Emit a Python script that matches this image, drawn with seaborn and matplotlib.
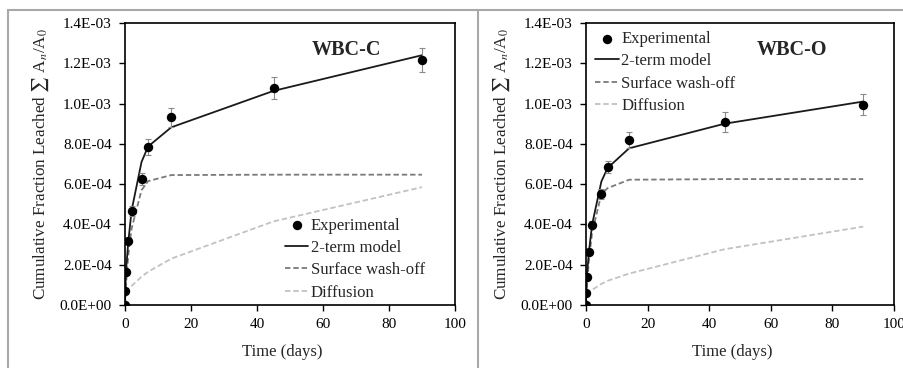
import numpy as np
import pandas as pd
import matplotlib
matplotlib.use('Agg')
import matplotlib.pyplot as plt
import seaborn as sns
from matplotlib.lines import Line2D
from matplotlib.ticker import FuncFormatter, MultipleLocator

sns.set_theme(style='ticks')
plt.rcParams['font.family'] = ['Liberation Serif', 'DejaVu Serif']
plt.rcParams['mathtext.fontset'] = 'stix'

# leaching times (days)
t = [0, 0.08, 0.29, 1, 2, 5, 7, 14, 45, 90]

# WBC-C
exp_C = [0, 6.8e-5, 1.66e-4, 3.18e-4, 4.68e-4, 6.27e-4, 7.84e-4, 9.32e-4, 1.076e-3, 1.218e-3]
err_C = [0, 5e-6, 1e-5, 1.5e-5, 2.5e-5, 3e-5, 4e-5, 4.8e-5, 5.5e-5, 6e-5]
model_C = [0, 7e-5, 1.7e-4, 3.15e-4, 4.7e-4, 7.1e-4, 7.87e-4, 8.82e-4, 1.063e-3, 1.24e-3]
wash_C = [0, 1e-5, 1e-4, 2.5e-4, 3.8e-4, 5.7e-4, 6.15e-4, 6.45e-4, 6.47e-4, 6.47e-4]
diff_C = [6.5e-5, 7e-5, 8e-5, 9.5e-5, 1.4e-4, 1.65e-4, 2.3e-4, 4.15e-4, 5.85e-4]

# WBC-O
exp_O = [0, 5.8e-5, 1.41e-4, 2.63e-4, 3.98e-4, 5.52e-4, 6.84e-4, 8.17e-4, 9.08e-4, 9.94e-4]
err_O = [0, 5e-6, 8e-6, 1.2e-5, 1.8e-5, 2.5e-5, 3e-5, 4e-5, 4.8e-5, 5.2e-5]
model_O = [0, 6e-5, 1.45e-4, 2.7e-4, 4.0e-4, 6.13e-4, 6.8e-4, 7.78e-4, 9.0e-4, 1.01e-3]
wash_O = [0, 1e-5, 9e-5, 2.3e-4, 3.6e-4, 5.5e-4, 5.8e-4, 6.22e-4, 6.25e-4, 6.25e-4]
diff_O = [5.5e-5, 6e-5, 6.5e-5, 7.5e-5, 1.05e-4, 1.2e-4, 1.56e-4, 2.77e-4, 3.89e-4]

panels = [
    ('WBC-C', exp_C, err_C, model_C, wash_C, diff_C),
    ('WBC-O', exp_O, err_O, model_O, wash_O, diff_O),
]

fig = plt.figure(figsize=(9.04, 3.68), dpi=100)
ax_C = fig.add_axes([0.1383, 0.1712, 0.365, 0.7663])
ax_O = fig.add_axes([0.6482, 0.1712, 0.3407, 0.7663])

sci = FuncFormatter(lambda v, p: f'{v:.1E}')

for ax, (name, exp, err, model, wash, diff) in zip([ax_C, ax_O], panels):
    df = pd.DataFrame({'t': t, 'exp': exp, 'err': err, 'model': model, 'wash': wash})
    dfd = pd.DataFrame({'t': t[1:], 'diff': diff})

    sns.lineplot(data=dfd, x='t', y='diff', ax=ax, color='#c2c2c2', lw=1.3,
                 linestyle=(0, (3, 1.6)), label='Diffusion')
    sns.lineplot(data=df, x='t', y='wash', ax=ax, color='#7a7a7a', lw=1.3,
                 linestyle=(0, (3, 1.6)), label='Surface wash-off')
    sns.lineplot(data=df, x='t', y='model', ax=ax, color='#1a1a1a', lw=1.3,
                 label='2-term model')
    ax.errorbar(df['t'], df['exp'], yerr=df['err'], fmt='none', ecolor='#8a8a8a',
                elinewidth=0.8, capsize=2, capthick=0.8, zorder=4)
    sns.scatterplot(data=df, x='t', y='exp', ax=ax, color='black', s=46,
                    edgecolor='black', linewidth=0, zorder=5, label='Experimental')

    ax.set_xlim(0, 100)
    ax.set_ylim(0, 1.4e-3)
    ax.xaxis.set_major_locator(MultipleLocator(20))
    ax.yaxis.set_major_locator(MultipleLocator(2e-4))
    ax.yaxis.set_major_formatter(sci)
    ax.tick_params(direction='out', length=4.5, width=1, pad=5, labelsize=11, colors='black')
    for s in ax.spines.values():
        s.set_visible(True)
        s.set_color('black')
        s.set_linewidth(1.2)
    ax.set_xlabel('Time (days)', fontsize=12)
    ax.xaxis.set_label_coords(0.475, -0.14)
    ax.set_ylabel(r'Cumulative Fraction Leached $\sum$ A$_n$/A$_0$', fontsize=12.3, labelpad=6)
    ax.text(0.67, 0.905, name, transform=ax.transAxes, ha='center', va='center',
            fontsize=14.5, fontweight='bold')

    h, l = ax.get_legend_handles_labels()
    order = [l.index(k) for k in ['Experimental', '2-term model', 'Surface wash-off', 'Diffusion']]
    if name == 'WBC-C':
        anchor = (0.485, 0.31)
    else:
        anchor = (0.03, 0.972)
    ax.legend([h[i] for i in order], [l[i] for i in order], loc='upper left',
              bbox_to_anchor=anchor, frameon=False, fontsize=12, borderpad=0,
              borderaxespad=0, handlelength=1.4, handletextpad=0.15, labelspacing=0.38)

# gray panel frames
frame = '#a8a8a8'
fig.add_artist(Line2D([8 / 904, 1], [1 - 10 / 368] * 2, color=frame, lw=1.5))
fig.add_artist(Line2D([8 / 904] * 2, [0, 1 - 10 / 368], color=frame, lw=1.5))
fig.add_artist(Line2D([478 / 904] * 2, [0, 1 - 10 / 368], color=frame, lw=1.5))

fig.savefig('out.png', dpi=100)
